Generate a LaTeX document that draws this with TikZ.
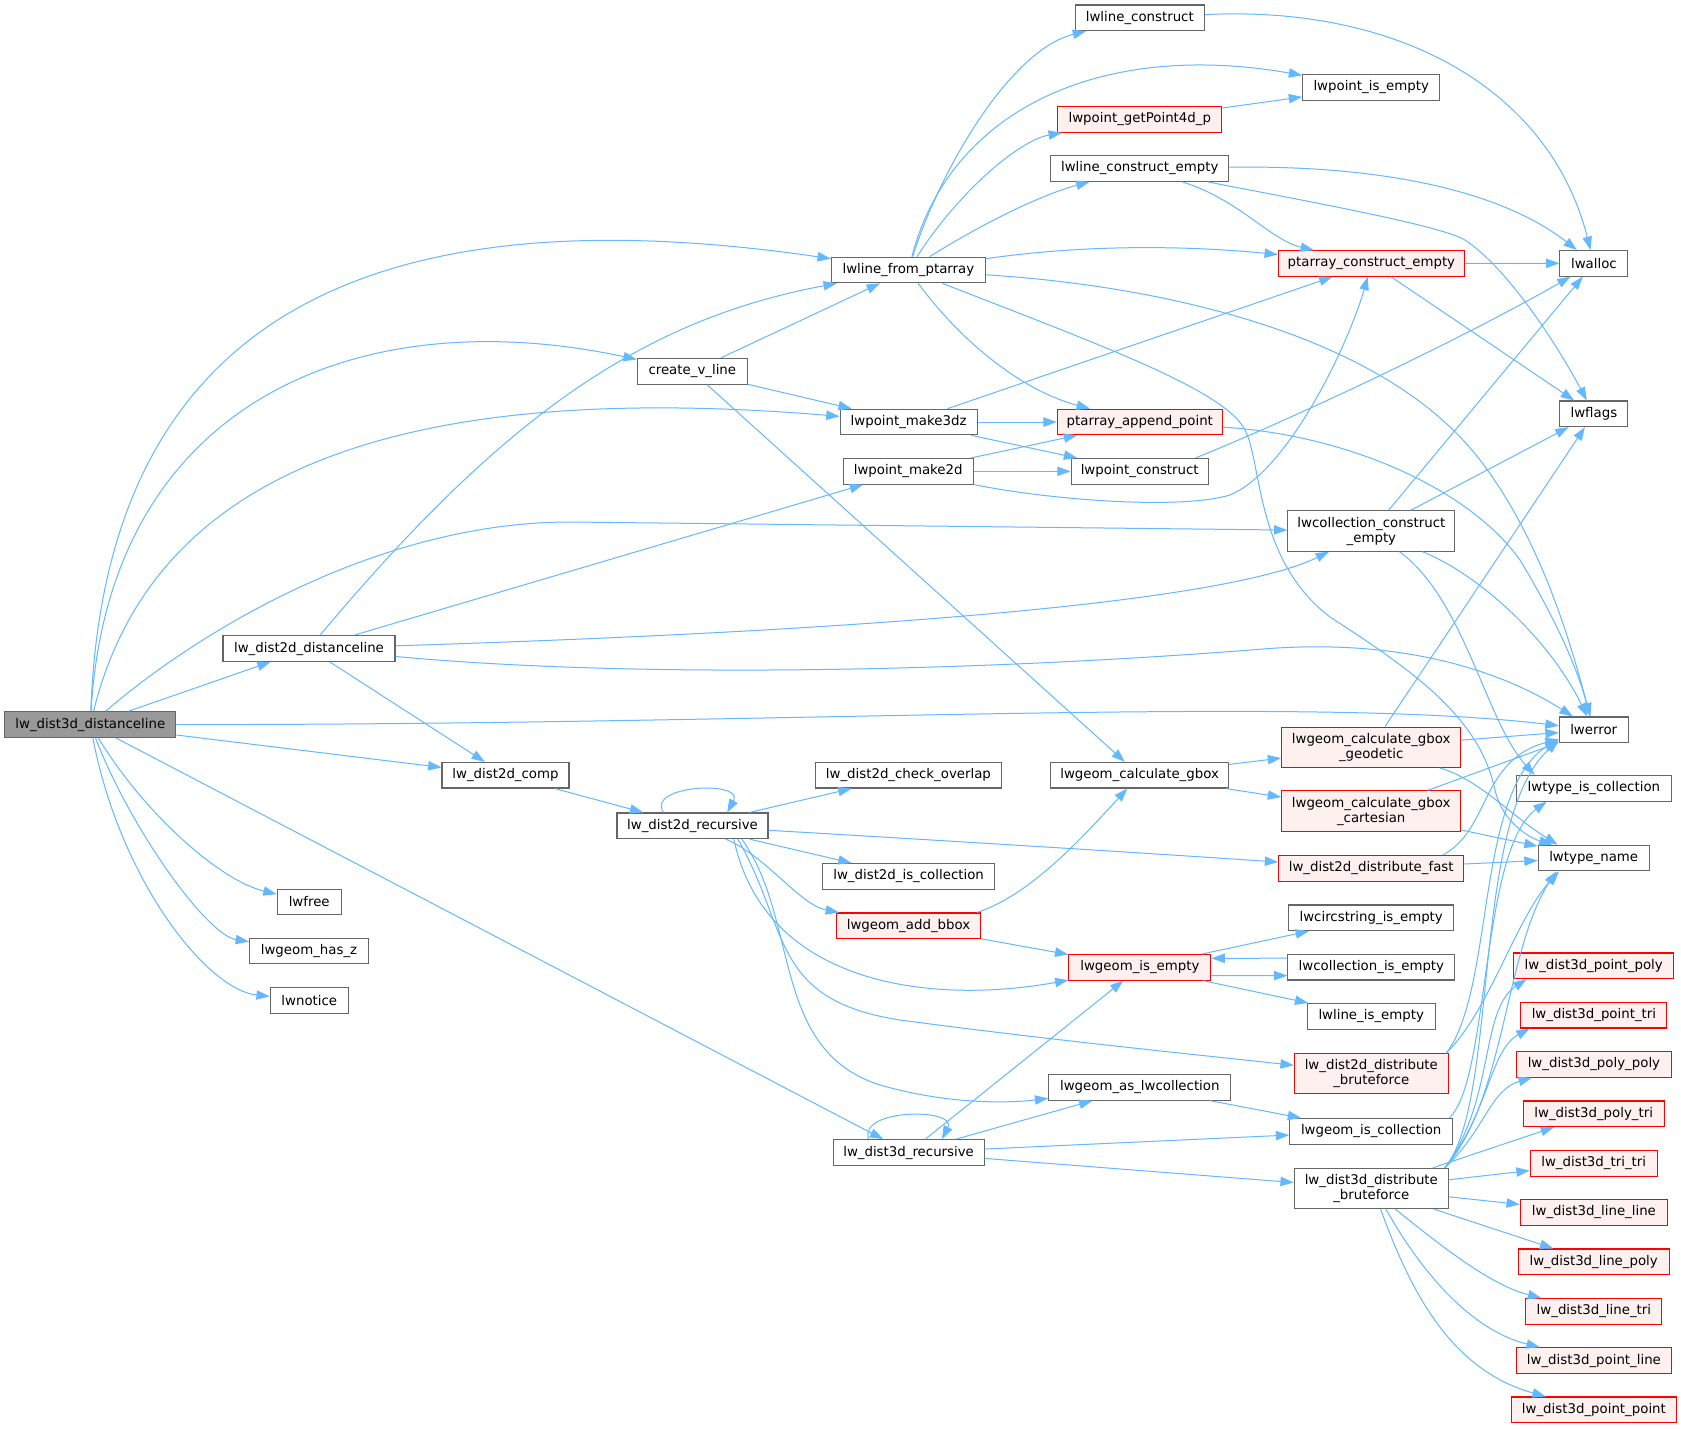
\documentclass[tikz,border=0pt]{standalone}
\usepackage{fontspec}
\setmainfont{DejaVu Sans}
\usetikzlibrary{arrows.meta}
\definecolor{edgec}{HTML}{63B8FF}
\definecolor{bordc}{HTML}{666666}
\definecolor{rootc}{HTML}{999999}
\definecolor{pinkc}{HTML}{FFF0F0}
\definecolor{redc}{HTML}{FF0000}
\begin{document}
\begin{tikzpicture}[x=0.75pt,y=-0.75pt,
 nd/.style={draw=bordc, fill=white, line width=0.8pt, font=\fontsize{10}{11.25}\selectfont, inner sep=0pt, minimum height=19.2pt, align=center},
 rd/.style={nd, draw=redc, fill=pinkc},
 rt/.style={nd, fill=rootc},
 wd/.style={minimum width=#1*0.75pt},
 two/.style={minimum height=30.2pt},
 ed/.style={draw=edgec, line width=0.75pt, -{Triangle[length=10pt,width=7pt]}}]
\fill[white] (0,0) rectangle (1681,1428);
\useasboundingbox (0,0) rectangle (1681,1428);

% ---------------- nodes ----------------
\node[rt,wd=171] (root) at (90.3,724.5) {lw\_dist3d\_distanceline};
\node[nd,wd=172] (d2dl) at (309,648.5) {lw\_dist2d\_distanceline};
\node[nd,wd=127] (d2comp) at (505.5,775.2) {lw\_dist2d\_comp};
\node[nd,wd=64] (lwfree) at (309.2,902) {lwfree};
\node[nd,wd=119] (haz) at (309,951) {lwgeom\_has\_z};
\node[nd,wd=78] (notice) at (309.3,1000.3) {lwnotice};
\node[nd,wd=154] (lfp) at (908.4,270) {lwline\_from\_ptarray};
\node[nd,wd=110] (cvl) at (692.3,371.3) {create\_v\_line};
\node[nd,wd=137] (m3dz) at (908.6,422) {lwpoint\_make3dz};
\node[nd,wd=130] (m2d) at (908.2,471.3) {lwpoint\_make2d};
\node[nd,wd=129] (lc) at (1139.8,17.8) {lwline\_construct};
\node[rd,wd=164] (gp4) at (1139.8,119.5) {lwpoint\_getPoint4d\_p};
\node[nd,wd=178] (lce) at (1139.8,168.5) {lwline\_construct\_empty};
\node[rd,wd=165] (pae) at (1139.8,422) {ptarray\_append\_point};
\node[nd,wd=137] (pc) at (1139.7,471.3) {lwpoint\_construct};
\node[nd,wd=137] (pie) at (1371.2,87.3) {lwpoint\_is\_empty};
\node[rd,wd=186] (pce) at (1371.4,263.5) {ptarray\_construct\_empty};
\node[nd,wd=68] (alloc) at (1593.9,263.3) {lwalloc};
\node[nd,wd=68] (flags) at (1593.9,413.8) {lwflags};
\node[nd,wd=167,two] (cce) at (1371.4,531) {lwcollection\_construct\\\_empty};
\node[nd,wd=69] (err) at (1593.7,729.8) {lwerror};
\node[rd,wd=179,two] (geo) at (1371.2,747.2) {lwgeom\_calculate\_gbox\\\_geodetic};
\node[nd,wd=178] (cgb) at (1139.6,775.2) {lwgeom\_calculate\_gbox};
\node[rd,wd=179,two] (cart) at (1371.2,811) {lwgeom\_calculate\_gbox\\\_cartesian};
\node[nd,wd=155] (tic) at (1593.9,788.3) {lwtype\_is\_collection};
\node[nd,wd=111] (tn) at (1593.7,858) {lwtype\_name};
\node[rd,wd=185] (dfast) at (1371.2,868.3) {lw\_dist2d\_distribute\_fast};
\node[nd,wd=165] (circ) at (1371.2,917.8) {lwcircstring\_is\_empty};
\node[nd,wd=151] (d2rec) at (692.5,825.8) {lw\_dist2d\_recursive};
\node[nd,wd=186] (chk) at (908.4,775.2) {lw\_dist2d\_check\_overlap};
\node[nd,wd=172] (d2ic) at (908.6,876.3) {lw\_dist2d\_is\_collection};
\node[rd,wd=144] (bbox) at (908.5,925.8) {lwgeom\_add\_bbox};
\node[rd,wd=142] (gie) at (1139.9,967.3) {lwgeom\_is\_empty};
\node[nd,wd=167] (colie) at (1371.4,967.2) {lwcollection\_is\_empty};
\node[nd,wd=128] (lie) at (1371.2,1016.3) {lwline\_is\_empty};
\node[rd,wd=154,two] (d2bf) at (1371.3,1073.8) {lw\_dist2d\_distribute\\\_bruteforce};
\node[nd,wd=182] (asc) at (1139.8,1087.3) {lwgeom\_as\_lwcollection};
\node[nd,wd=163] (gic) at (1371.2,1131.3) {lwgeom\_is\_collection};
\node[nd,wd=154,two] (d3bf) at (1371.3,1188.5) {lw\_dist3d\_distribute\\\_bruteforce};
\node[nd,wd=151] (d3rec) at (908.6,1152.5) {lw\_dist3d\_recursive};
\node[rd,wd=160] (rpp) at (1593.7,965.8) {lw\_dist3d\_point\_poly};
\node[rd,wd=146] (rpt) at (1593.9,1015.2) {lw\_dist3d\_point\_tri};
\node[rd,wd=155] (rpop) at (1593.9,1064.3) {lw\_dist3d\_poly\_poly};
\node[rd,wd=141] (rpot) at (1593.7,1113.8) {lw\_dist3d\_poly\_tri};
\node[rd,wd=127] (rtt) at (1593.7,1163.3) {lw\_dist3d\_tri\_tri};
\node[rd,wd=147] (rll) at (1593.9,1212.3) {lw\_dist3d\_line\_line};
\node[rd,wd=151] (rlp) at (1593.7,1261.8) {lw\_dist3d\_line\_poly};
\node[rd,wd=136] (rlt) at (1593.9,1311.3) {lw\_dist3d\_line\_tri};
\node[rd,wd=155] (rpl) at (1593.9,1360.5) {lw\_dist3d\_point\_line};
\node[rd,wd=165] (rppt) at (1593.9,1409.8) {lw\_dist3d\_point\_point};

% ---------------- edges ----------------
% root
\draw[ed] (root) .. controls (104,350) and (327,185) .. (lfp);
\draw[ed] (root) .. controls (109,400) and (360,300) .. (cvl);
\draw[ed] (root) .. controls (153,470) and (400,380) .. (m3dz);
\draw[ed] (root) .. controls (200,630) and (380,522) .. (570,522) -- (cce);
\draw[ed] (root) -- (d2dl);
\draw[ed] (root) .. controls (800,725) and (1300,695) .. (err);
\draw[ed] (root) -- (d2comp);
\draw[ed] (root) -- (d3rec);
\draw[ed] (root) .. controls (141.7,810) and (218,880) .. (lwfree);
\draw[ed] (root) .. controls (131,830) and (207,935) .. (haz);
\draw[ed] (root) .. controls (120,880) and (207,990) .. (notice);
% lw_dist2d_distanceline
\draw[ed] (d2dl) .. controls (500,420) and (640,320) .. (lfp);
\draw[ed] (d2dl) -- (m2d);
\draw[ed] (d2dl) .. controls (900,630) and (1230,600) .. (cce);
\draw[ed] (d2dl) .. controls (650,680) and (1000,670) .. (1263,649) .. controls (1400,638) and (1500,670) .. (err);
\draw[ed] (d2dl) -- (d2comp);
% create_v_line
\draw[ed] (cvl) -- (lfp);
\draw[ed] (cvl) -- (m3dz);
\draw[ed] (cvl) -- (cgb);
% lwline_from_ptarray
\draw[ed] (lfp) .. controls (940,170) and (1010,50) .. (lc);
\draw[ed] (lfp) .. controls (950,110) and (1100,40) .. (pie);
\draw[ed] (lfp) .. controls (960,190) and (1020,140) .. (gp4);
\draw[ed] (lfp) .. controls (980,225) and (1040,195) .. (lce);
\draw[ed] (lfp) .. controls (1080,245) and (1180,245) .. (pce);
\draw[ed] (lfp) .. controls (1150,285) and (1380,330) .. (1480,460) .. controls (1540,538) and (1570,640) .. (err);
\draw[ed] (lfp) .. controls (960,340) and (1020,390) .. (pae);
\draw[ed] (lfp) .. controls (1100,345) and (1225,390) .. (1245,430) .. controls (1262,462) and (1255,560) .. (1330,617) .. controls (1420,675) and (1480,720) .. (1495,790) .. controls (1502,822) and (1530,838) .. ([xshift=11pt]tn.north west);
% upper right
\draw[ed] (lc) .. controls (1400,5) and (1550,90) .. (alloc);
\draw[ed] (gp4) -- (pie);
\draw[ed] (lce) .. controls (1380,165) and (1500,190) .. (alloc);
\draw[ed] (lce) .. controls (1240,200) and (1270,240) .. (pce);
\draw[ed] (lce) .. controls (1300,200) and (1440,225) .. (1465,240) .. controls (1510,270) and (1560,350) .. (flags);
\draw[ed] (pce) -- (alloc);
\draw[ed] (pce) -- (flags);
\draw[ed] (m3dz) -- (pae);
\draw[ed] (m3dz) -- (pc);
\draw[ed] (m3dz) -- (pce);
\draw[ed] (m2d) -- (pae);
\draw[ed] (m2d) -- (pc);
\draw[ed] (m2d) .. controls (1050,500) and (1180,510) .. (1230,495) .. controls (1290,470) and (1350,340) .. (pce);
\draw[ed] ([xshift=-10pt]pc.north east) .. controls (1290,420) and (1460,340) .. (alloc);
\draw[ed] (pae) .. controls (1350,435) and (1470,490) .. (1520,560) .. controls (1550,610) and (1575,660) .. (err);
% lwcollection_construct_empty
\draw[ed] (cce) -- (alloc);
\draw[ed] (cce) -- (flags);
\draw[ed] (cce) .. controls (1480,575) and (1550,640) .. (err);
\draw[ed] (cce) .. controls (1465,600) and (1485,720) .. ([xshift=14pt]tic.north west);
% gbox
\draw[ed] (cgb) -- (geo);
\draw[ed] (cgb) -- (cart);
\draw[ed] (geo) -- (flags);
\draw[ed] (geo) -- (err);
\draw[ed] (geo) .. controls (1480,780) and (1510,815) .. ([xshift=15pt]tn.north west);
\draw[ed] (cart) -- (err);
\draw[ed] (cart) -- (tn);
\draw[ed] (dfast) -- (tn);
\draw[ed] ([xshift=-16pt]dfast.north east) .. controls (1490,830) and (1480,760) .. (err);
% lw_dist2d_comp / recursive
\draw[ed] (d2comp) -- (d2rec);
\draw[ed] ([xshift=-21.7pt]d2rec.north) .. controls (645,785) and (745,780) .. ([xshift=26pt]d2rec.north);
\draw[ed] (d2rec) -- (chk);
\draw[ed] (d2rec) -- (d2ic);
\draw[ed] (d2rec) .. controls (765,855) and (800,905) .. (bbox);
\draw[ed] (d2rec) .. controls (900,838) and (1100,850) .. (dfast);
\draw[ed] ([xshift=31pt]d2rec.south) .. controls (765,985) and (930,1005) .. (gie);
\draw[ed] ([xshift=34pt]d2rec.south) .. controls (790,930) and (770,1000) .. (900,1020) .. controls (1050,1040) and (1200,1055) .. (d2bf);
\draw[ed] ([xshift=37pt]d2rec.south) .. controls (800,920) and (770,1050) .. (880,1085) .. controls (950,1105) and (1010,1103) .. (asc);
% bbox / is_empty
\draw[ed] ([xshift=-3pt]bbox.north east) .. controls (1030,895) and (1080,840) .. (cgb);
\draw[ed] (bbox) -- (gie);
\draw[ed] (gie) -- (circ);
\draw[ed] ([yshift=-6.3pt]gie.east) -- ([yshift=-6.3pt]colie.west);
\draw[ed] ([yshift=6.75pt]colie.west) -- ([yshift=6.75pt]gie.east);
\draw[ed] (gie) -- (lie);
% lw_dist3d_recursive
\draw[ed] ([xshift=-30pt]d3rec.north) .. controls (858,1108) and (958,1108) .. ([xshift=25pt]d3rec.north);
\draw[ed] (d3rec) -- (gie);
\draw[ed] (d3rec) -- (asc);
\draw[ed] (d3rec) -- (gic);
\draw[ed] (d3rec) -- (d3bf);
\draw[ed] (asc) -- (gic);
\draw[ed] ([xshift=-3pt]gic.north east) .. controls (1490,1080) and (1480,850) .. ([xshift=23pt]tic.south west);
% bruteforce
\draw[ed] ([xshift=-2pt]d2bf.north east) .. controls (1490,1010) and (1515,920) .. ([xshift=16pt]tn.south west);
\draw[ed] ([xshift=-2pt]d2bf.north east) .. controls (1495,990) and (1475,790) .. ([yshift=3pt]err.south west);
\draw[ed] ([xshift=-3pt]d3bf.north east) .. controls (1500,1100) and (1470,820) .. ([yshift=2pt]err.south west);
\draw[ed] ([xshift=-3pt]d3bf.north east) .. controls (1505,1100) and (1505,950) .. ([xshift=14pt]tn.south west);
\draw[ed] ([xshift=-3pt]d3bf.north east) .. controls (1495,1100) and (1480,1010) .. ([xshift=10pt]rpp.south west);
\draw[ed] ([xshift=-3pt]d3bf.north east) .. controls (1490,1110) and (1490,1050) .. ([xshift=7pt]rpt.south west);
\draw[ed] ([xshift=-3pt]d3bf.north east) .. controls (1485,1130) and (1490,1090) .. ([xshift=12pt]rpop.south west);
\draw[ed] (d3bf) -- (rpot);
\draw[ed] (d3bf) -- (rtt);
\draw[ed] (d3bf) -- (rll);
\draw[ed] (d3bf) -- (rlp);
\draw[ed] ([xshift=18pt]d3bf.south) .. controls (1440,1245) and (1490,1285) .. (rlt);
\draw[ed] ([xshift=11pt]d3bf.south) .. controls (1420,1270) and (1470,1330) .. (rpl);
\draw[ed] ([xshift=7pt]d3bf.south) .. controls (1410,1290) and (1450,1370) .. (rppt);
\end{tikzpicture}
\end{document}
